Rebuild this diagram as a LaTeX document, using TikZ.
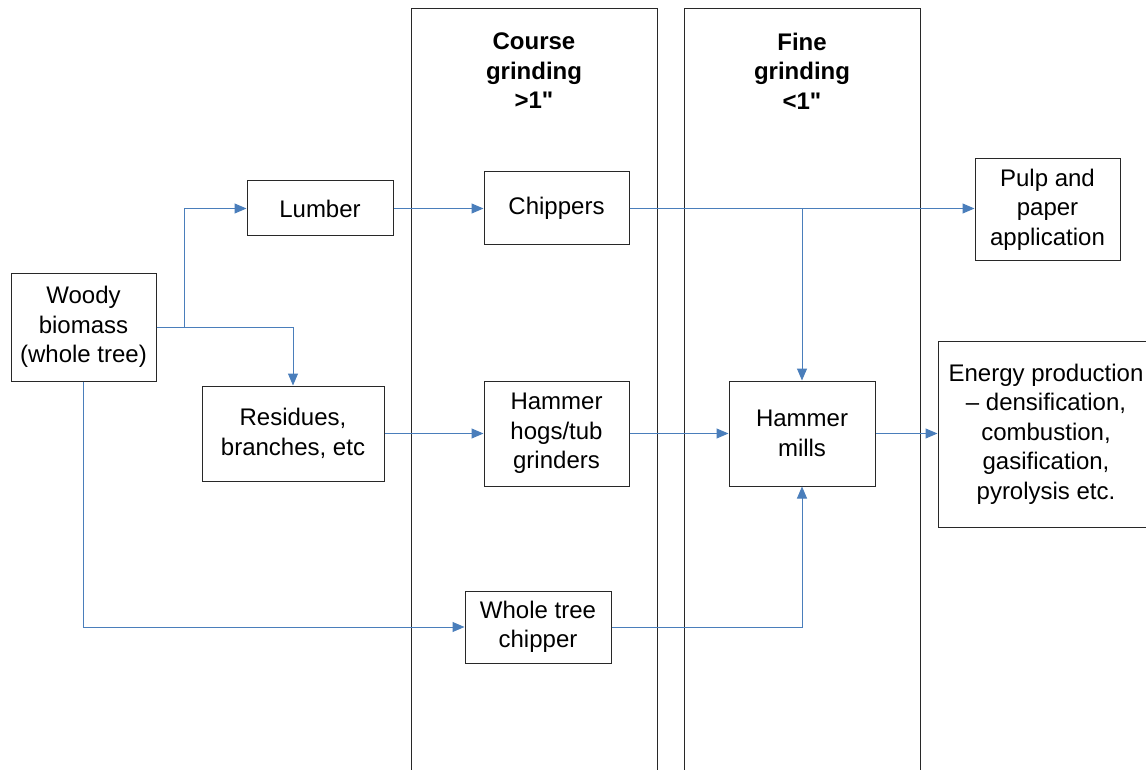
\documentclass[tikz,border=0pt]{standalone}
\usepackage{fontspec}
\setmainfont{Liberation Sans}[Ligatures=TeXOff]
\usetikzlibrary{arrows.meta}
\definecolor{conn}{RGB}{74,126,187}
\definecolor{boxline}{RGB}{40,40,40}
\begin{document}
\begin{tikzpicture}[x=1pt,y=-1pt,
  box/.style={draw=boxline,line width=1pt,inner sep=0pt,align=center,
    font=\fontsize{24}{29.5}\selectfont},
  head/.style={align=center,font=\fontsize{24}{29.5}\selectfont\bfseries},
  column/.style={draw=boxline,line width=1pt},
  arr/.style={draw=conn,line width=1pt,-{Triangle[length=12pt,width=10pt]}}]
\useasboundingbox (0,0) rectangle (1146,770);
\clip (0,0) rectangle (1146,770);
% columns
\draw[column] (411,780) -- (411,9) -- (657,9) -- (657,780);
\draw[column] (684,780) -- (684,9) -- (920,9) -- (920,780);
\node[head] (h1) at (534,71) {Course\\grinding\\>1"};
\node[head] (h2) at (802,71) {Fine\\grinding\\<1"};
% boxes
\node[box,minimum width=145pt,minimum height=108pt] (woody) at (83.5,327) {Woody\\biomass\\(whole tree)};
\node[box,minimum width=146pt,minimum height=55pt] (lumber) at (320,208.5) {Lumber};
\node[box,minimum width=182pt,minimum height=95pt] (residues) at (293,433.5) {Residues,\\branches, etc};
\node[box,minimum width=145pt,minimum height=73pt] (chippers) at (556.5,208.5) {Chippers};
\node[box,minimum width=145pt,minimum height=105pt] (hogs) at (556.5,433.5) {Hammer\\hogs/tub\\grinders};
\node[box,minimum width=146pt,minimum height=72pt] (wtc) at (538,627) {Whole tree\\chipper};
\node[box,minimum width=146pt,minimum height=105pt] (mills) at (802,433.5) {Hammer\\mills};
\node[box,minimum width=145pt,minimum height=101pt] (pulp) at (1047.5,209.5) {Pulp and\\paper\\application};
\node[box,minimum width=216pt,minimum height=186pt] (energy) at (1046,434) {Energy production\\– densification,\\combustion,\\gasification,\\pyrolysis etc.};
% connectors
\coordinate (split) at ([xshift=28pt]woody.east);
\draw[arr] (woody.east) -- (split) |- (lumber.west);
\draw[arr] (woody.east) -| (residues.north);
\draw[arr] (woody.south) |- (wtc.west);
\draw[arr] (lumber.east) -- (chippers.west);
\draw[arr] (chippers.east) -- (chippers.east -| pulp.west);
\draw[arr] (chippers.east) -| (mills.north);
\draw[arr] (residues.east) -- (hogs.west);
\draw[arr] (hogs.east) -- (mills.west);
\draw[arr] (mills.east) -- (mills.east -| energy.west);
\draw[arr] (wtc.east) -| (mills.south);
\end{tikzpicture}
\end{document}
